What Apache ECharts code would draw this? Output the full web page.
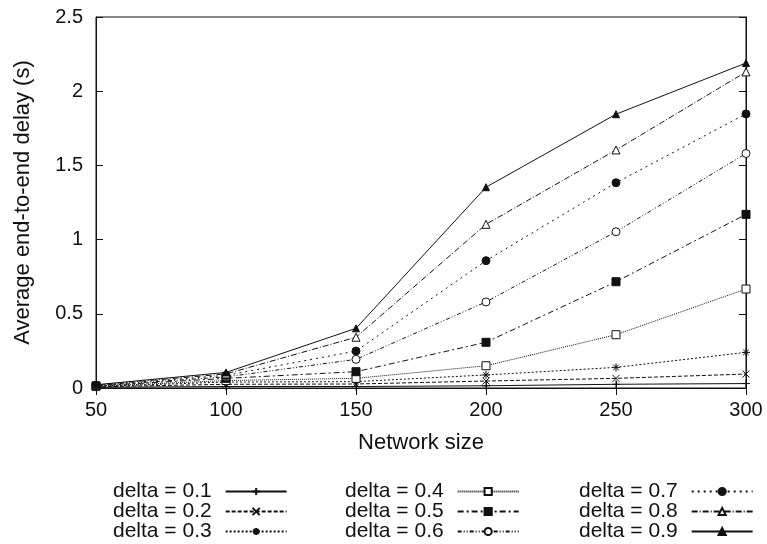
<!DOCTYPE html>
<html>
<head>
<meta charset="utf-8">
<script src="https://cdn.jsdelivr.net/npm/echarts@6/dist/echarts.min.js"></script>
<style>
html,body{margin:0;padding:0;background:#fff;}
#main{width:767px;height:544px;}
</style>
</head>
<body>
<div id="main"></div>
<script>
var networkSize = [50, 100, 150, 200, 250, 300];
var delta01 = [0.005, 0.01, 0.01, 0.015, 0.025, 0.03];
var delta02 = [0.008, 0.025, 0.027, 0.047, 0.065, 0.094];
var delta03 = [0.01, 0.04, 0.043, 0.088, 0.139, 0.24];
var delta04 = [0.012, 0.05, 0.065, 0.15, 0.359, 0.667];
var delta05 = [0.014, 0.065, 0.11, 0.308, 0.716, 1.17];
var delta06 = [0.016, 0.075, 0.193, 0.58, 1.053, 1.58];
var delta07 = [0.018, 0.085, 0.249, 0.858, 1.383, 1.847];
var delta08 = [0.02, 0.095, 0.342, 1.103, 1.604, 2.13];
var delta09 = [0.022, 0.105, 0.402, 1.353, 1.845, 2.19];
var names = ['delta = 0.1','delta = 0.2','delta = 0.3','delta = 0.4','delta = 0.5','delta = 0.6','delta = 0.7','delta = 0.8','delta = 0.9'];

var chart = echarts.init(document.getElementById('main'));
var font = 'Liberation Sans, Arial, sans-serif';

function pairs(arr){
	var out = [];
	for (var i = 0; i < networkSize.length; i++) out.push([networkSize[i], arr[i]]);
	return out;
}
// marker shapes
var plus = 'path://M5,0L5,10M0,5L10,5';
var cross = 'path://M0,0L10,10M10,0L0,10';
var star = 'path://M5,0L5,10M0,5L10,5M1.5,1.5L8.5,8.5M8.5,1.5L1.5,8.5';

function mk(name, data, dash, symbol, fill, size){
	return {
		name: name,
		type: 'line',
		data: pairs(data),
		symbol: symbol,
		symbolSize: size,
		showAllSymbol: true,
		lineStyle: {color: '#111', width: 1, type: dash},
		itemStyle: {color: fill, borderColor: '#111', borderWidth: 1},
		emphasis: {disabled: true},
		z: 3
	};
}

var series = [
	mk(names[0], delta01, 'solid', plus, '#111', 8),
	mk(names[1], delta02, [4, 2], cross, '#111', 7),
	mk(names[2], delta03, [2, 2], star, '#111', 8),
	mk(names[3], delta04, [1, 1], 'rect', '#fff', 8),
	mk(names[4], delta05, [6, 3, 2, 3], 'rect', '#111', 8),
	mk(names[5], delta06, [4, 2, 1, 2, 1, 2], 'circle', '#fff', 8),
	mk(names[6], delta07, [2, 4], 'circle', '#111', 8),
	mk(names[7], delta08, [6, 2, 1, 2], 'triangle', '#fff', 8),
	mk(names[8], delta09, 'solid', 'triangle', '#111', 7)
];

function legendCol(left, items){
	return {
		orient: 'vertical',
		left: left,
		top: 481,
		height: 90,
		align: 'right',
		padding: 0,
		itemGap: -1,
		itemWidth: 61,
		itemHeight: 9,
		data: items,
		selectedMode: false,
		textStyle: {fontFamily: font, fontSize: 21, color: '#111', padding: [0, 9, 0, 0]}
	};
}

var axisText = {fontFamily: font, fontSize: 22, color: '#111'};

option = {
	animation: false,
	grid: {left: 96, right: 21, top: 17, bottom: 156, show: true, borderColor: '#111', borderWidth: 1},
	legend: [
		legendCol(113, names.slice(0, 3)),
		legendCol(345, names.slice(3, 6)),
		legendCol(579, names.slice(6, 9))
	],
	xAxis: [{
		type: 'value',
		min: 50, max: 300, interval: 50,
		name: 'Network size',
		nameLocation: 'middle',
		nameGap: 44,
		nameTextStyle: axisText,
		axisLine: {lineStyle: {color: '#111'}},
		axisTick: {inside: true, length: 7, lineStyle: {color: '#111'}},
		axisLabel: {margin: 12, fontFamily: font, fontSize: 20, color: '#111'},
		splitLine: {show: false}
	}, {
		type: 'value', position: 'top',
		min: 50, max: 300, interval: 50,
		axisLine: {lineStyle: {color: '#111'}},
		axisTick: {inside: true, length: 7, lineStyle: {color: '#111'}},
		axisLabel: {show: false},
		splitLine: {show: false}
	}],
	yAxis: [{
		type: 'value',
		min: 0, max: 2.5, interval: 0.5,
		name: 'Average end-to-end delay (s)',
		nameLocation: 'middle',
		nameGap: 62,
		nameTextStyle: axisText,
		axisLine: {show: true, lineStyle: {color: '#111'}},
		axisTick: {show: true, inside: true, length: 7, lineStyle: {color: '#111'}},
		axisLabel: {margin: 13, fontFamily: font, fontSize: 20, color: '#111'},
		splitLine: {show: false}
	}, {
		type: 'value', position: 'right',
		min: 0, max: 2.5, interval: 0.5,
		axisLine: {show: true, lineStyle: {color: '#111'}},
		axisTick: {show: true, inside: true, length: 7, lineStyle: {color: '#111'}},
		axisLabel: {show: false},
		splitLine: {show: false}
	}],
	series: series
};
chart.setOption(option);
</script>
</body>
</html>
